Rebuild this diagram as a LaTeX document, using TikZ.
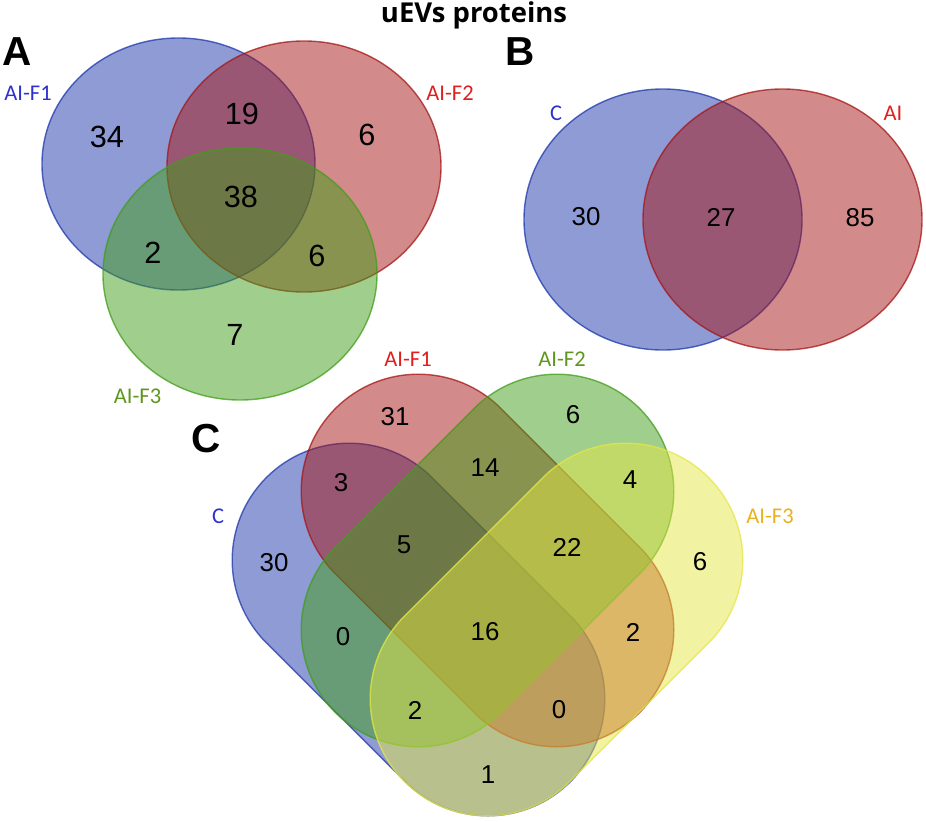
\documentclass[tikz,border=0pt]{standalone}
\usepackage{fontspec}
\setmainfont{Liberation Sans}
\newfontfamily\labelfont{Carlito}
\newfontfamily\titlefont{Open Sans}
\definecolor{vblue}{RGB}{29,55,171}
\definecolor{vred}{RGB}{165,21,21}
\definecolor{vgreen}{RGB}{65,157,25}
\definecolor{vyellow}{RGB}{228,230,70}
\definecolor{lblblue}{RGB}{45,50,205}
\definecolor{lblred}{RGB}{225,30,30}
\definecolor{lblgreen}{RGB}{95,150,30}
\definecolor{lblorange}{RGB}{232,178,30}

\begin{document}
\begin{tikzpicture}[x=0.025cm, y=-0.025cm]
    \tikzset{
    num/.style={font=\fontsize{18.4}{20}\selectfont, inner sep=0pt},
    bignum/.style={font=\fontsize{21.8}{24}\selectfont, inner sep=0pt},
    setlabel/.style={font=\labelfont\fontsize{16}{18}\selectfont, inner sep=0pt},
    panel/.style={font=\bfseries\fontsize{28.8}{32}\selectfont, inner sep=0pt},
    venn/.style={fill=#1, fill opacity=0.5, draw=#1, draw opacity=0.75, line width=1pt},
    }
    \useasboundingbox (0,0) rectangle (926,821);

    % capsule: centre, tilt; half length 98, radius 117
    \def\capsule[#1](#2)#3{\draw [venn=#1, shift={(#2)}, rotate=#3]
        (-98,117) -- (98,117) arc[start angle=90, end angle=-90, radius=117]
        -- (-98,-117) arc[start angle=270, end angle=90, radius=117] -- cycle;}

    \node [font=\titlefont\bfseries\fontsize{19.5}{22}\selectfont, anchor=base] (title) at (474,23) {uEVs proteins};

    % Panel A (three fractions).
    \coordinate (af1) at (178.5,164);   % AI-F1
    \coordinate (af2) at (304,166.5);   % AI-F2
    \coordinate (af3) at (240,274);     % AI-F3
    \draw [venn=vblue]  (af1) ellipse [x radius=136.5, y radius=126];
    \draw [venn=vred]   (af2) ellipse [x radius=137, y radius=125.5];
    \draw [venn=vgreen] (af3) ellipse [x radius=137, y radius=126];

    \node [panel] (panelA) at (17,52) {A};
    \node [setlabel, text=lblblue]  (labAF1) at (28,93)    {AI-F1};
    \node [setlabel, text=lblred]   (labAF2) at (450,93)   {AI-F2};
    \node [setlabel, text=lblgreen] (labAF3) at (137.5,396) {AI-F3};

    \node [bignum] (aOne)      at (107,137) {34};
    \node [bignum] (aOneTwo)   at (242,114) {19};
    \node [bignum] (aTwo)      at (367,135) {6};
    \node [bignum] (aAll)      at (241,197) {38};
    \node [bignum] (aOneThree) at (153,253) {2};
    \node [bignum] (aTwoThree) at (317,256) {6};
    \node [bignum] (aThree)    at (235,335) {7};

    % Panel B (control vs. AI).
    \coordinate (bc)  at (663,219.5);   % C
    \coordinate (bai) at (782.5,219.5); % AI
    \draw [venn=vblue] (bc)  ellipse [x radius=139, y radius=130.5];
    \draw [venn=vred]  (bai) ellipse [x radius=139.5, y radius=130.5];

    \node [panel] (panelB) at (520.5,52) {B};
    \node [setlabel, text=lblblue] (labBC)  at (556,113) {C};
    \node [setlabel, text=lblred]  (labBAI) at (893,113) {AI};

    \node [num] (bC)    at (586,217) {30};
    \node [num] (bBoth) at (721,217) {27};
    \node [num] (bAI)   at (860,218) {85};

    % Panel C (control and three fractions).
    \capsule[vblue](418.5,629.5){-45}
    \capsule[vred](487.5,560.5){-45}
    \capsule[vgreen](487.5,560.5){45}
    \capsule[vyellow](556.5,629.5){45}

    \node [panel] (panelC) at (206.5,439) {C};
    \node [setlabel, text=lblred]    (labCF1) at (408,359) {AI-F1};
    \node [setlabel, text=lblgreen]  (labCF2) at (562,359) {AI-F2};
    \node [setlabel, text=lblblue]   (labCC)  at (218,516) {C};
    \node [setlabel, text=lblorange] (labCF3) at (770,516) {AI-F3};

    \node [num] (cF1)       at (395,417) {31};
    \node [num] (cF2)       at (573,415) {6};
    \node [num] (cCF1)      at (341,483) {3};
    \node [num] (cF1F2)     at (485,468) {14};
    \node [num] (cF2F3)     at (630,480) {4};
    \node [num] (cCF1F2)    at (404,545) {5};
    \node [num] (cF1F2F3)   at (567,547) {22};
    \node [num] (cC)        at (274,563) {30};
    \node [num] (cF3)       at (700,562) {6};
    \node [num] (cCF2)      at (343,637) {0};
    \node [num] (cAll)      at (485,632) {16};
    \node [num] (cF1F3)     at (633,632) {2};
    \node [num] (cCF2F3)    at (415,710) {2};
    \node [num] (cCF1F3)    at (559,710) {0};
    \node [num] (cCF3)      at (488,775) {1};
\end{tikzpicture}
\end{document}
